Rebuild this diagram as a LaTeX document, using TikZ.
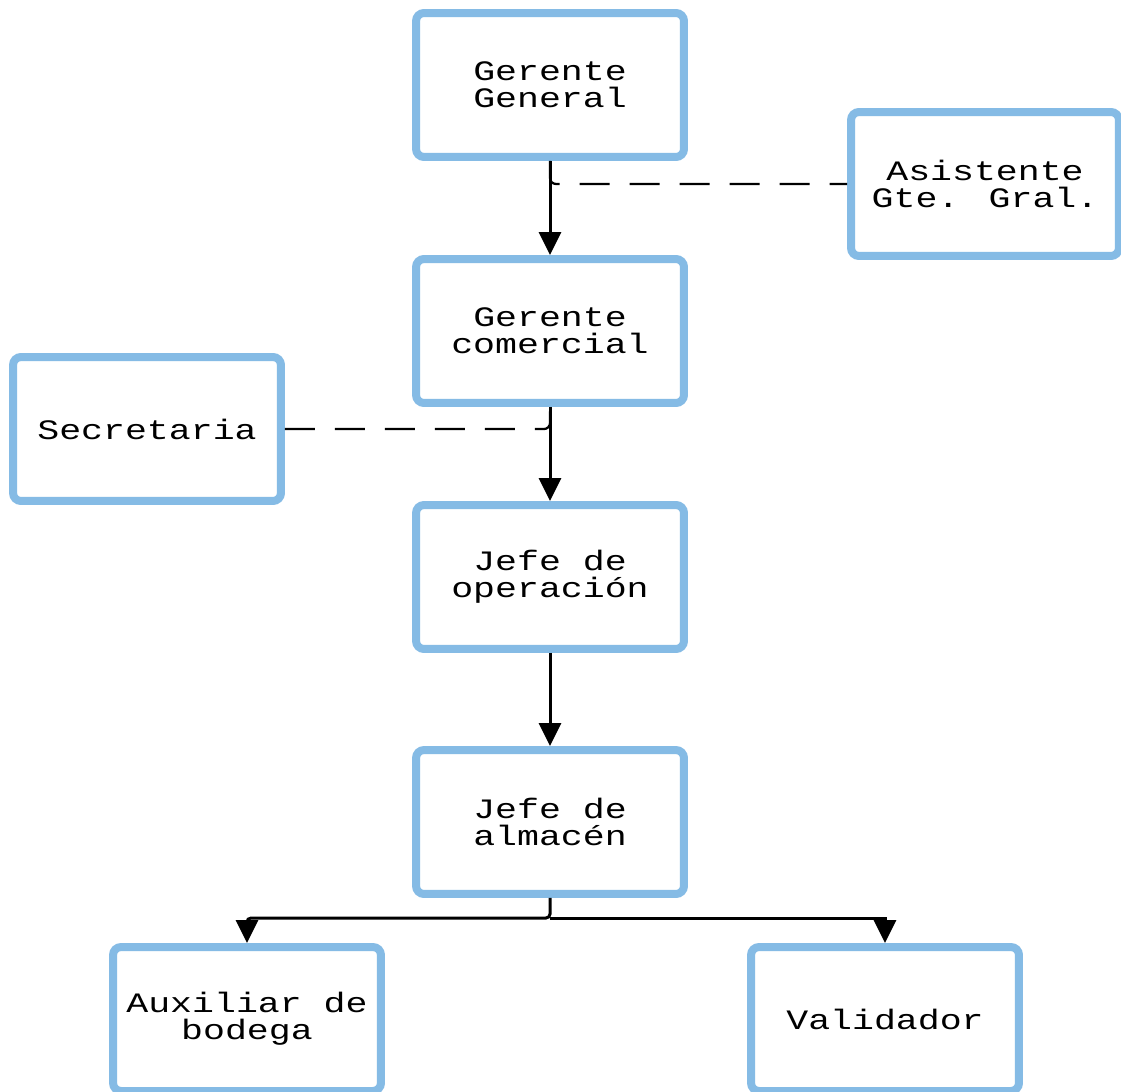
\documentclass[tikz,border=0pt]{standalone}
\usepackage{fontspec}
\usetikzlibrary{arrows.meta}
\newfontfamily\boxfont[FakeStretch=1.3]{Liberation Mono}
\definecolor{boxblue}{HTML}{85BBE5}
\tikzstyle{orgbox}=[draw=boxblue,line width=0.16cm,rounded corners=0.16cm,fill=white,minimum width=5.36cm,minimum height=2.88cm,align=center,inner sep=0pt,font=\boxfont\fontsize{16}{15.2}\selectfont]
\tikzstyle{mainarrow}=[line width=0.06cm,-{Triangle[length=4.6mm,width=4.4mm]}]
\tikzstyle{staffline}=[line width=0.045cm,dash pattern=on 0.6cm off 0.4cm,rounded corners=0.12cm]
\begin{document}
\begin{tikzpicture}[x=0.02cm,y=-0.02cm]
  \useasboundingbox (0,0) rectangle (1121,1091);
  % staff positions
  \node[orgbox] (gg) at (550,85) {Gerente\\General};
  \node[orgbox] (asist) at (985,184) {Asistente\\Gte. Gral.};
  \node[orgbox] (gc) at (550,331) {Gerente\\comercial};
  \node[orgbox] (secre) at (147,429) {Secretaria};
  \node[orgbox] (jo) at (550,577) {Jefe de\\operación};
  \node[orgbox] (ja) at (550,822) {Jefe de\\almacén};
  \node[orgbox] (aux) at (247,1019) {Auxiliar de\\bodega};
  \node[orgbox] (valid) at (885,1019) {Validador};
  \coordinate (split) at (550,918);
  % chain of command
  \draw[mainarrow] (gg) -- (gc);
  \draw[mainarrow] (gc) -- (jo);
  \draw[mainarrow] (jo) -- (ja);
  \draw[mainarrow,rounded corners=0.08cm] (ja.south) -- (split) -| (aux.north);
  \draw[mainarrow] (split) -| (valid.north);
  % support staff
  \draw[staffline] (gg.south) |- (asist.west);
  \draw[staffline] (secre.east) -| (gc.south);
\end{tikzpicture}
\end{document}
